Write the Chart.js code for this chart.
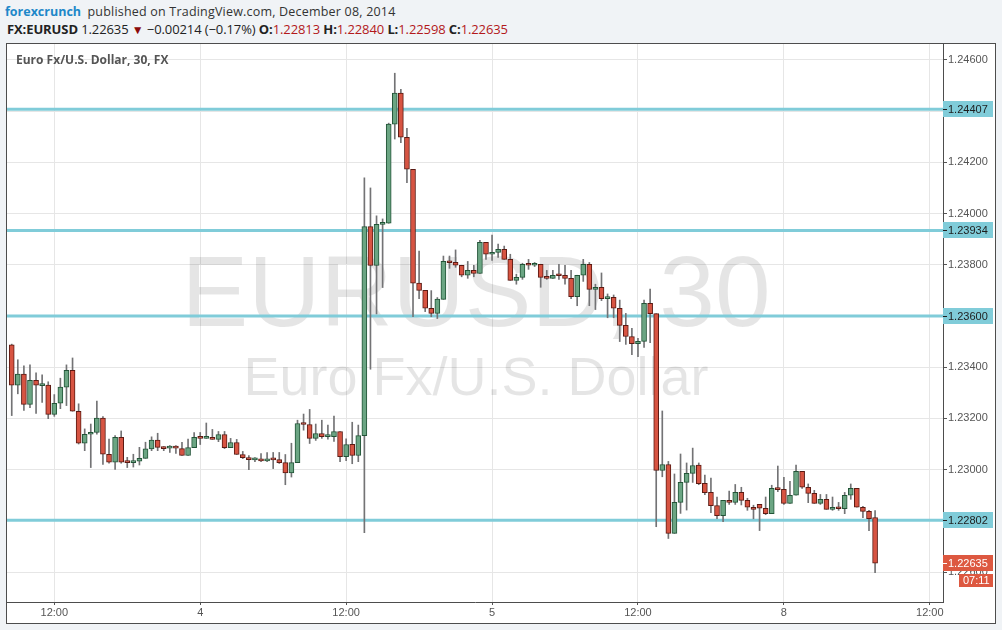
<!DOCTYPE html>
<html>
<head>
<meta charset="utf-8">
<script src="https://cdn.jsdelivr.net/npm/chart.js@4.4.1/dist/chart.umd.min.js"></script>
<style>
  html,body{margin:0;padding:0;}
  body{width:1002px;height:630px;background:#f0f3f6;position:relative;overflow:hidden;font-family:"Open Sans",sans-serif;}
  #head1{position:absolute;left:5px;top:3px;font-size:12.5px;color:#333;white-space:nowrap;letter-spacing:0.2px;}
  #head1 b{color:#1e88c9;margin-right:3px;letter-spacing:0;}
  #head2{position:absolute;left:7px;top:20px;font-size:13px;color:#222;white-space:nowrap;letter-spacing:-0.1px;}
  #head2 .red{color:#b3191b;}
  #head2 .tri{color:#8b0a0a;font-size:12px;}
  #box{position:absolute;left:6px;top:43px;width:988px;height:579px;border:1px solid #4d4d4d;background:#fff;}
  #box canvas{display:block;}
</style>
</head>
<body>
<div id="head1"><b>forexcrunch</b> published on TradingView.com, December 08, 2014</div>
<div id="head2"><b>FX:EURUSD</b> 1.22635 <span class="tri">&#9660;</span> &minus;0.00214 (&minus;0.17%) <b>O:</b><span class="red">1.22813</span> <b>H:</b><span class="red">1.22840</span> <b>L:</b><span class="red">1.22598</span> <b>C:</b><span class="red">1.22635</span></div>
<div id="box"><canvas id="c" width="988" height="579"></canvas></div>
<script>
// EURUSD 30 min candles, Dec 3 08:30 -> Dec 8 07:30
const opens = [
  1.23487,1.23330,1.23373,1.23255,1.23349,1.23328,1.23330,1.23216,1.23259,1.23322,
  1.23388,1.23228,1.23103,1.23138,1.23145,1.23201,1.23060,1.23029,1.23126,1.23029,
  1.23027,1.23033,1.23044,1.23081,1.23115,1.23087,1.23084,1.23086,1.23082,1.23055,
  1.23086,1.23126,1.23122,1.23126,1.23118,1.23137,1.23086,1.23106,1.23059,1.23047,
  1.23038,1.23039,1.23034,1.23039,1.23039,1.23027,1.22987,1.23027,1.23180,1.23176,
  1.23122,1.23141,1.23129,1.23129,1.23149,1.23051,1.23099,1.23055,1.23133,1.23949,
  1.23797,1.23958,1.23962,1.24349,1.24470,1.24298,1.24173,1.23728,1.23700,1.23630,
  1.23610,1.23665,1.23813,1.23809,1.23798,1.23759,1.23778,1.23766,1.23888,1.23841,
  1.23848,1.23860,1.23821,1.23739,1.23751,1.23802,1.23798,1.23802,1.23751,1.23747,
  1.23759,1.23759,1.23747,1.23675,1.23759,1.23802,1.23704,1.23712,1.23668,1.23673,
  1.23630,1.23563,1.23520,1.23492,1.23501,1.23649,1.23609,1.22997,1.23020,1.22751,
  1.22872,1.22950,1.22985,1.23018,1.22946,1.22911,1.22860,1.22820,1.22880,1.22872,
  1.22911,1.22880,1.22853,1.22864,1.22849,1.22828,1.22927,1.22923,1.22868,1.22900,
  1.22993,1.22931,1.22907,1.22868,1.22884,1.22845,1.22853,1.22847,1.22900,1.22927,
  1.22853,1.22837,1.22813
];
const highs = [
  1.23490,1.23429,1.23405,1.23409,1.23378,1.23370,1.23343,1.23293,1.23357,1.23409,
  1.23436,1.23257,1.23159,1.23178,1.23268,1.23207,1.23119,1.23133,1.23151,1.23048,
  1.23060,1.23087,1.23107,1.23128,1.23142,1.23090,1.23094,1.23094,1.23107,1.23119,
  1.23145,1.23145,1.23182,1.23157,1.23149,1.23149,1.23122,1.23118,1.23071,1.23055,
  1.23047,1.23063,1.23067,1.23067,1.23067,1.23059,1.23103,1.23193,1.23217,1.23235,
  1.23178,1.23193,1.23174,1.23209,1.23149,1.23120,1.23185,1.23174,1.24139,1.24100,
  1.23991,1.23979,1.24353,1.24548,1.24485,1.24333,1.24173,1.23853,1.23700,1.23699,
  1.23672,1.23834,1.23834,1.23858,1.23798,1.23813,1.23798,1.23895,1.23888,1.23916,
  1.23881,1.23873,1.23841,1.23763,1.23806,1.23821,1.23809,1.23802,1.23778,1.23778,
  1.23802,1.23798,1.23778,1.23759,1.23821,1.23809,1.23724,1.23768,1.23686,1.23682,
  1.23662,1.23610,1.23552,1.23513,1.23662,1.23705,1.23609,1.23229,1.23032,1.22983,
  1.23061,1.23026,1.23084,1.23026,1.22979,1.22967,1.22893,1.22880,1.22916,1.22942,
  1.22931,1.22888,1.22861,1.22864,1.22893,1.22939,1.23014,1.22970,1.22954,1.23018,
  1.22993,1.22944,1.22919,1.22903,1.22903,1.22893,1.22872,1.22911,1.22944,1.22927,
  1.22857,1.22841,1.22840
];
const lows = [
  1.23211,1.23296,1.23231,1.23242,1.23219,1.23262,1.23199,1.23208,1.23238,1.23250,
  1.23228,1.23100,1.23074,1.23008,1.23138,1.23020,1.23025,1.23001,1.23025,1.23008,
  1.23010,1.23018,1.23044,1.23074,1.23074,1.23074,1.23067,1.23063,1.23055,1.23055,
  1.23086,1.23098,1.23122,1.23118,1.23109,1.23082,1.23086,1.23059,1.23043,1.23000,
  1.23031,1.23031,1.23031,1.23004,1.23024,1.22941,1.22971,1.23027,1.23154,1.23102,
  1.23114,1.23122,1.23119,1.23110,1.23031,1.23035,1.23023,1.23031,1.22754,1.23392,
  1.23608,1.23711,1.23962,1.24291,1.24277,1.24121,1.23597,1.23668,1.23617,1.23597,
  1.23590,1.23665,1.23786,1.23790,1.23753,1.23747,1.23753,1.23766,1.23821,1.23817,
  1.23829,1.23821,1.23739,1.23724,1.23743,1.23782,1.23793,1.23712,1.23743,1.23747,
  1.23743,1.23724,1.23668,1.23640,1.23735,1.23640,1.23625,1.23660,1.23593,1.23593,
  1.23500,1.23489,1.23449,1.23441,1.23477,1.23496,1.22777,1.22972,1.22731,1.22751,
  1.22829,1.22842,1.22950,1.22941,1.22902,1.22832,1.22808,1.22797,1.22864,1.22864,
  1.22862,1.22841,1.22808,1.22762,1.22824,1.22828,1.22914,1.22864,1.22868,1.22900,
  1.22927,1.22871,1.22868,1.22864,1.22845,1.22841,1.22841,1.22828,1.22884,1.22853,
  1.22812,1.22762,1.22598
];
const closes = [
  1.23330,1.23373,1.23255,1.23349,1.23330,1.23330,1.23216,1.23259,1.23322,1.23388,
  1.23228,1.23103,1.23138,1.23145,1.23201,1.23060,1.23029,1.23126,1.23029,1.23027,
  1.23033,1.23044,1.23081,1.23115,1.23087,1.23082,1.23086,1.23084,1.23055,1.23086,
  1.23126,1.23122,1.23126,1.23118,1.23137,1.23086,1.23106,1.23059,1.23047,1.23039,
  1.23040,1.23034,1.23039,1.23038,1.23027,1.22987,1.23027,1.23180,1.23176,1.23122,
  1.23141,1.23129,1.23130,1.23149,1.23051,1.23098,1.23055,1.23133,1.23949,1.23797,
  1.23958,1.23962,1.24349,1.24470,1.24298,1.24173,1.23728,1.23700,1.23630,1.23610,
  1.23666,1.23813,1.23808,1.23798,1.23759,1.23778,1.23766,1.23888,1.23841,1.23848,
  1.23860,1.23821,1.23739,1.23751,1.23802,1.23798,1.23802,1.23751,1.23747,1.23759,
  1.23757,1.23747,1.23675,1.23759,1.23802,1.23704,1.23712,1.23668,1.23670,1.23630,
  1.23563,1.23520,1.23492,1.23501,1.23649,1.23609,1.22997,1.23020,1.22751,1.22872,
  1.22950,1.22985,1.23016,1.22945,1.22910,1.22859,1.22820,1.22880,1.22872,1.22911,
  1.22880,1.22853,1.22845,1.22849,1.22828,1.22927,1.22922,1.22868,1.22900,1.22993,
  1.22931,1.22907,1.22868,1.22884,1.22845,1.22853,1.22847,1.22900,1.22927,1.22853,
  1.22837,1.22808,1.22635
];

// time axis: bar index of each label
const xTickIdx = [7, 31, 55, 79, 103, 127, 151];
const xTickLabels = ['12:00', '4', '12:00', '5', '12:00', '8', '12:00'];
const yTickVals = [1.226, 1.228, 1.230, 1.232, 1.234, 1.236, 1.238, 1.240, 1.242, 1.244, 1.246];

// horizontal levels drawn on the chart
const levels = [1.24407, 1.23934, 1.23600, 1.22802];
const lastPrice = 1.22635;
const countdown = '07:11';

const UP = '#6ba583', UP_B = '#225437', DN = '#d75442', DN_B = '#5b1a13', WICK = '#737375';
const CYAN = '#80ccd9';
const AXIS_FONT = {family: 'Liberation Sans', size: 11};

const isUp = opens.map((o, i) => closes[i] >= o);

const decor = {
  id: 'decor',
  beforeDatasetsDraw(chart){
    const {ctx, chartArea: a} = chart;
    ctx.save();
    ctx.beginPath(); ctx.rect(a.left, a.top, a.right - a.left, a.bottom - a.top); ctx.clip();
    ctx.fillStyle = 'rgba(0,0,0,0.1)';
    ctx.textAlign = 'center';
    ctx.textBaseline = 'alphabetic';
    ctx.font = '100px "Liberation Sans"';
    ctx.fillText('EURUSD, 30', 469, 282);
    ctx.font = '54px "Liberation Sans"';
    ctx.fillText('Euro Fx/U.S. Dollar', 469, 351);
    ctx.textAlign = 'left';
    ctx.textBaseline = 'middle';
    ctx.fillStyle = '#555';
    ctx.font = 'bold 12px "Open Sans"';
    ctx.fillText('Euro Fx/U.S. Dollar, 30, FX', 9, 17);
    ctx.restore();
  },
  afterDraw(chart){
    const {ctx, chartArea: a, scales: {y}} = chart;
    ctx.save();
    ctx.font = '11px "Liberation Sans"';
    ctx.textBaseline = 'middle';
    const box = (v, bg, fg) => {
      const py = Math.round(y.getPixelForValue(v));
      ctx.fillStyle = bg;
      ctx.fillRect(a.right, py - 8, 50, 16);
      ctx.fillStyle = fg;
      ctx.fillRect(a.right, py, 4, 1);
      ctx.fillText(v.toFixed(5), a.right + 5, py + 1);
      return py;
    };
    levels.forEach(v => box(v, CYAN, '#1d1d1d'));
    const py = box(lastPrice, '#dd5840', '#fff');
    ctx.fillStyle = '#dd5840';
    ctx.fillRect(a.right + 16, py + 11, 34, 13);
    ctx.fillStyle = '#fff';
    ctx.fillText(countdown, a.right + 20, py + 18);
    ctx.restore();
  }
};

new Chart(document.getElementById('c'), {
  type: 'bar',
  data: {
    datasets: [
      {
        label: 'body', order: 1, grouped: false,
        data: opens.map((o, i) => ({x: i, y: [Math.min(o, closes[i]), Math.max(o, closes[i])]})),
        backgroundColor: isUp.map(u => u ? UP : DN),
        borderColor: isUp.map(u => u ? UP_B : DN_B),
        borderWidth: 1, borderSkipped: false, barThickness: 5, minBarLength: 2
      },
      {
        label: 'wick', order: 2, grouped: false,
        data: lows.map((l, i) => ({x: i, y: [l, highs[i]]})),
        backgroundColor: WICK, barThickness: 1
      },
      ...levels.map(v => ({
        type: 'line', label: 'level', order: 3,
        data: [{x: -2, y: v}, {x: 160, y: v}],
        borderColor: CYAN, borderWidth: 3, pointRadius: 0
      }))
    ]
  },
  options: {
    responsive: false,
    devicePixelRatio: 1,
    animation: false,
    layout: {padding: 0},
    plugins: {legend: {display: false}, tooltip: {enabled: false}},
    scales: {
      x: {
        type: 'linear', min: -0.78, max: 153.17, offset: false,
        afterBuildTicks: s => { s.ticks = xTickIdx.map(v => ({value: v})); },
        afterFit: s => { s.height = 21; s.paddingLeft = 0; s.paddingRight = 0; },
        ticks: {callback: (v, i) => xTickLabels[i], font: AXIS_FONT, color: '#555', padding: 1, maxRotation: 0, autoSkip: false},
        grid: {offset: false, color: '#e6e6e6', tickColor: '#555', tickLength: 3},
        border: {color: '#4d4d4d'}
      },
      y: {
        position: 'right', min: 1.22483, max: 1.246621,
        afterBuildTicks: s => { s.ticks = yTickVals.map(v => ({value: v})); },
        afterFit: s => { s.width = 52; s.paddingTop = 0; s.paddingBottom = 0; },
        ticks: {callback: v => v.toFixed(5), font: AXIS_FONT, color: '#555', padding: 1},
        grid: {color: '#e6e6e6', tickColor: '#555', tickLength: 4},
        border: {color: '#4d4d4d'}
      }
    }
  },
  plugins: [decor]
});
</script>
</body>
</html>
